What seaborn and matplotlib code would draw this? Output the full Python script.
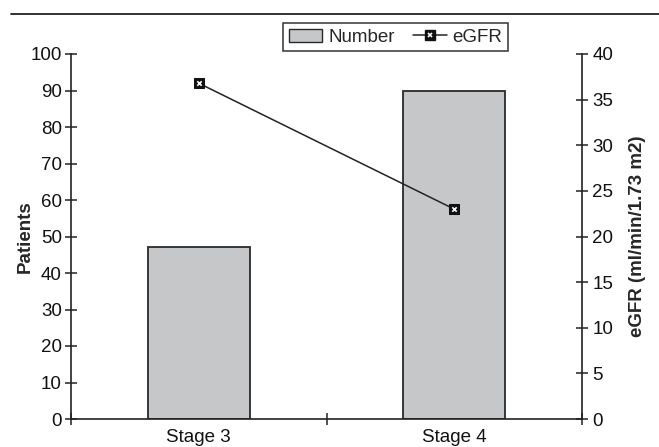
import matplotlib
matplotlib.use("Agg")
import matplotlib.pyplot as plt
from matplotlib.lines import Line2D
from matplotlib.patches import Patch
import seaborn as sns
import pandas as pd

stages = ["Stage 3", "Stage 4"]
patients = [47, 90]
egfr = [36.8, 23.0]

sns.set_theme(style="white")
plt.rcParams["font.family"] = ["Liberation Sans", "DejaVu Sans"]

df = pd.DataFrame({"stage": stages, "patients": patients, "egfr": egfr})

W, H = 659, 447
fig = plt.figure(figsize=(W / 100, H / 100), dpi=100)
ax = fig.add_axes([71 / W, 1 - 419 / H, (582 - 71) / W, (419 - 54) / H])

bar_color = "#c6c7c9"
edge = "#2a2a2a"
sns.barplot(data=df, x="stage", y="patients", ax=ax, color=bar_color,
            edgecolor=edge, linewidth=1.3, width=0.4, saturation=1)

ax2 = ax.twinx()
sns.lineplot(data=df, x="stage", y="egfr", ax=ax2, color="#222222",
             linewidth=1.1, marker="s", markersize=7, markeredgecolor="#111111",
             markerfacecolor="#111111", sort=False)
# white cross inside the square markers
sns.scatterplot(data=df, x="stage", y="egfr", ax=ax2, marker="x", s=10,
                color="white", linewidth=1.2, zorder=5)

ax.set_xlim(-0.5, 1.5)
ax.set_ylim(0, 100)
ax2.set_ylim(0, 40)
ax.set_yticks(range(0, 101, 10))
ax2.set_yticks(range(0, 41, 5))

for a in (ax, ax2):
    for s in a.spines.values():
        s.set_color("#222222")
        s.set_linewidth(1.2)
    a.spines["top"].set_visible(False)

ax.spines["right"].set_visible(False)
ax2.spines["left"].set_visible(False)
ax2.spines["bottom"].set_visible(False)

fs = 13.5
tick_kw = dict(direction="inout", length=9, width=1.1, color="#222222",
               labelsize=fs, labelcolor="#111111")
ax.tick_params(axis="y", left=True, pad=2, **tick_kw)
ax2.tick_params(axis="y", right=True, pad=3, **tick_kw)

# category labels centered, ticks at category boundaries
ax.set_xticks([0, 1])
ax.set_xticklabels(stages)
ax.tick_params(axis="x", which="major", length=0, labelsize=fs,
               labelcolor="#111111", pad=7)
ax.set_xticks([-0.5, 0.5, 1.5], minor=True)
ax.tick_params(axis="x", which="minor", direction="inout", length=9,
               width=1.1, color="#222222", bottom=True)

ax.set_xlabel("")
ax.set_ylabel("Patients", fontsize=fs, fontweight="bold")
ax.yaxis.set_label_coords(-0.072, 0.5)
ax2.set_ylabel("eGFR (ml/min/1.73 m2)", fontsize=fs, fontweight="bold",
               labelpad=11)

line_h = Line2D([0], [0], color="#222222", lw=1.1, marker="s", markersize=7,
                markerfacecolor="#111111", markeredgecolor="#111111")
cross_h = Line2D([0], [0], color="none", marker="x", markersize=3.5,
                 markeredgecolor="white", markeredgewidth=1.2)
handles = [
    Patch(facecolor=bar_color, edgecolor=edge, linewidth=1.0),
    (line_h, cross_h),
]
leg = fig.legend(handles=handles, labels=["Number", "eGFR"], loc="upper left",
                 bbox_to_anchor=(283 / W, 1 - 23 / H), ncol=2, frameon=True,
                 fancybox=False, fontsize=fs, handlelength=1.8,
                 handleheight=0.7, columnspacing=1.0, borderpad=0.3,
                 handletextpad=0.3, borderaxespad=0)
leg.get_frame().set_edgecolor("#333333")
leg.get_frame().set_linewidth(1.1)
leg.get_frame().set_alpha(1)

fig.add_artist(Line2D([11 / W, 1.0], [1 - 14 / H, 1 - 14 / H],
                      color="#222222", lw=1.3, transform=fig.transFigure))

fig.savefig("out.png", dpi=100)
